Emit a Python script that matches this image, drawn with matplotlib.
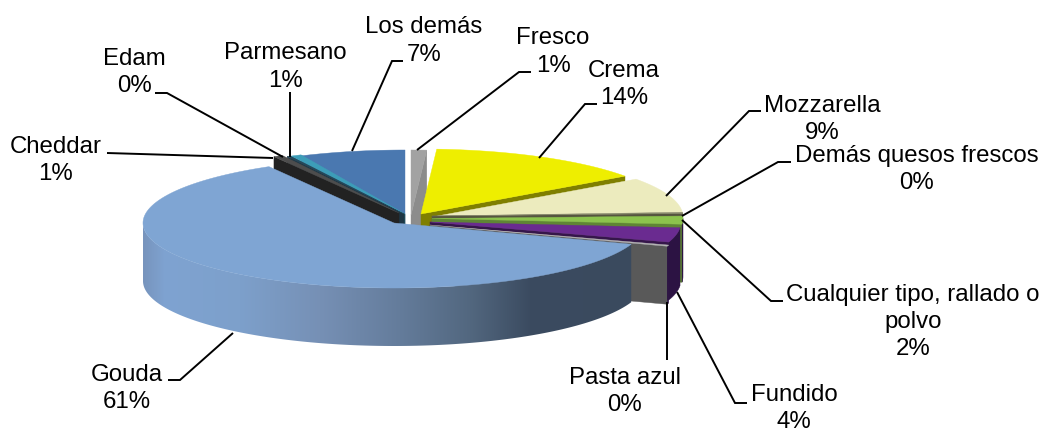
import matplotlib
matplotlib.use("Agg")
import matplotlib.pyplot as plt
from matplotlib.colors import to_rgb
from matplotlib.patches import Polygon
import numpy as np

plt.rcParams["font.family"] = ["Liberation Sans", "DejaVu Sans"]

# values in drawing order around the pie, clockwise from 12 o'clock
names = ["Fresco", "Crema", "Mozzarella", "Demás quesos frescos",
         "Cualquier tipo, rallado o\npolvo", "Fundido", "Pasta azul", "Gouda",
         "Cheddar", "Edam", "Parmesano", "Los demás"]
values = [1.0, 14.1, 9.0, 0.3, 2.0, 3.6, 0.3, 61.4, 0.6, 0.2, 0.7, 6.8]
pct_labels = ["1%", "14%", "9%", "0%", "2%", "4%", "0%", "61%", "1%", "0%", "1%", "7%"]

# exploded centre of every slice, in pixels
centre_x = [411, 421, 432, 432, 432, 430, 430, 394, 399, 404, 405, 405]
centre_y = [215, 214, 217, 216, 218.5, 222, 225, 223, 213, 214, 214, 215]

top_colors = ["#a2a2a2", "#eeee00", "#ecebbe", "#85856a", "#8cc34d", "#6a2b90",
              "#b5b5b5", "#7fa5d3", "#4d4d4d", "#28485a", "#3d9db8", "#4a78b0"]
cut_colors = ["#8c8c8c", "#7f7f00", "#76765f", "#55553f", "#5f8535", "#35164a",
              "#595959", None, "#222222", "#1e3644", "#1f4f5c", "#1f3a5a"]
wall_colors = [None, None, None, None, "#2c1343", "#2c1343", "#2c1343", None,
               None, None, None, None]

# label text centre
label_x = [553, 624, 822, 917, 913, 794, 625, 127, 56, 134, 285, 424]
label_y = [52, 84.5, 119.5, 169.5, 322, 408.5, 391.5, 388.5, 160.5, 72.5, 67, 41]

leaders = [
    [(417, 150), (519, 72), (531, 72)],
    [(539, 158), (585, 104), (597, 104)],
    [(666, 196), (749, 111), (761, 111)],
    [(682, 216), (778, 162), (791, 162)],
    [(682, 220), (771, 301), (783, 301)],
    [(677, 292), (735, 403), (747, 403)],
    [(667, 302), (667, 360)],
    [(233, 333), (180, 380), (168, 380)],
    [(273, 158), (107, 153)],
    [(283, 157), (167, 93), (155, 93)],
    [(290, 157), (290, 92)],
    [(352, 151), (392, 61), (403, 61)],
]

RX = 251
RY = 65
DEPTH = 58
draw_order = [11, 10, 9, 8, 0, 1, 2, 3, 4, 5, 6, 7]

edges = np.cumsum([0] + values) * 3.6


def rim(t0, t1, cx, cy):
    t = np.radians(np.linspace(t0, t1, max(int(abs(t1 - t0)) * 2, 3)))
    return np.column_stack([cx + RX * np.sin(t), cy - RY * np.cos(t)])


fig = plt.figure(figsize=(10.42, 4.32), dpi=100, facecolor="white")
ax = fig.add_axes([0, 0, 1, 1])

for i in draw_order:
    t0, t1 = edges[i], edges[i + 1]
    cx, cy = centre_x[i], centre_y[i]
    arc = rim(t0, t1, cx, cy)
    down = np.array([0, DEPTH])
    z = 2 if names[i] == "Gouda" else 1

    if cut_colors[i]:
        corner = arc[0] if (t0 + t1) / 2 > 180 else arc[-1]
        face = [(cx, cy), corner, corner + down, (cx, cy + DEPTH)]
        ax.add_patch(Polygon(face, fc=cut_colors[i], ec=cut_colors[i], lw=0.3))

    w0, w1 = max(t0, 90), min(t1, 270)
    if w1 > w0 and wall_colors[i]:
        wall = rim(w0, w1, cx, cy)
        ax.add_patch(Polygon(np.vstack([wall, wall[::-1] + down]),
                             fc=wall_colors[i], ec=wall_colors[i], lw=0.3))

    if names[i] == "Gouda":
        # shaded side of the big slice, light on the left and dark on the right
        wall = rim(w0, w1, cx, cy)
        shape = Polygon(np.vstack([wall, wall[::-1] + down]), fc="none", ec="none",
                        transform=ax.transData)
        ax.add_patch(shape)
        stop_x = [143, 165, 240, 320, 400, 470, 530, 635]
        stop_c = [to_rgb(c) for c in ["#7794bd", "#7fa3d1", "#7da0cb", "#7690b5",
                                      "#647c9b", "#52677f", "#3b4b60", "#3a4a5e"]]
        xs = np.arange(143, 636)
        ramp = np.stack([np.interp(xs, stop_x, [c[k] for c in stop_c]) for k in range(3)], axis=-1)
        img = ax.imshow(ramp[np.newaxis, :, :], extent=(143, 636, 360, 200), aspect="auto",
                        interpolation="bilinear", zorder=1.5)
        img.set_clip_path(shape)

    ax.add_patch(Polygon(np.vstack([[(cx, cy)], arc]), fc=top_colors[i], ec=top_colors[i],
                         lw=0.3, zorder=z))

ax.set_xlim(0, 1042)
ax.set_ylim(432, 0)
ax.axis("off")

for pts in leaders:
    xs, ys = zip(*pts)
    ax.plot(xs, ys, color="black", lw=1.4, solid_capstyle="butt", solid_joinstyle="miter", zorder=3)

for name, pct, x, y in zip(names, pct_labels, label_x, label_y):
    ax.text(x, y, name + "\n" + pct, ha="center", va="center", fontsize=17.3,
            color="black", multialignment="center", linespacing=1.3, zorder=4)

fig.savefig("out.png", dpi=100)
